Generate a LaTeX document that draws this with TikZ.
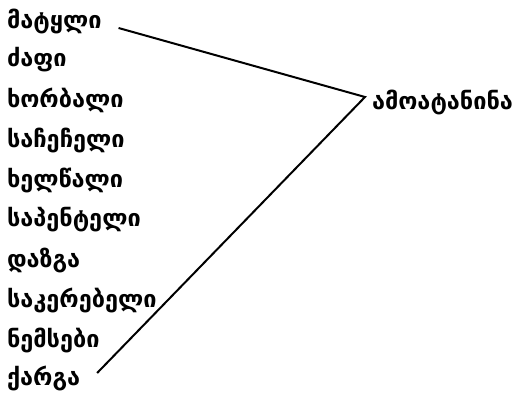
\documentclass[tikz,border=0pt]{standalone}
\usepackage{fontspec}
\newfontfamily\geofont[Script=Georgian]{DejaVu Sans}
\begin{document}
\begin{tikzpicture}[
  x=1pt, y=-1pt,
  line width=2pt,
  word/.style={anchor=west, inner sep=2pt, font=\geofont\bfseries\fontsize{23.5}{28}\selectfont}]
  \useasboundingbox (0,0) rectangle (515,399);
  \node[word] (w1)  at (4,21)  {მატყლი};
  \node[word] (w2)  at (4,60)  {ძაფი};
  \node[word] (w3)  at (4,100) {ხორბალი};
  \node[word] (w4)  at (4,140) {საჩეჩელი};
  \node[word] (w5)  at (4,180) {ხელწალი};
  \node[word] (w6)  at (4,220) {საპენტელი};
  \node[word] (w7)  at (4,260) {დაზგა};
  \node[word] (w8)  at (4,300) {საკერებელი};
  \node[word] (w9)  at (4,340) {ნემსები};
  \node[word] (w10) at (4,378) {ქარგა};
  \node[word] (verb) at (369,102) {ამოატანინა};
  \draw ([xshift=14pt,yshift=-7pt]w1.east) -- ([xshift=-4pt,yshift=5pt]verb.west) -- ([xshift=14pt,yshift=5pt]w10.east);
\end{tikzpicture}
\end{document}
